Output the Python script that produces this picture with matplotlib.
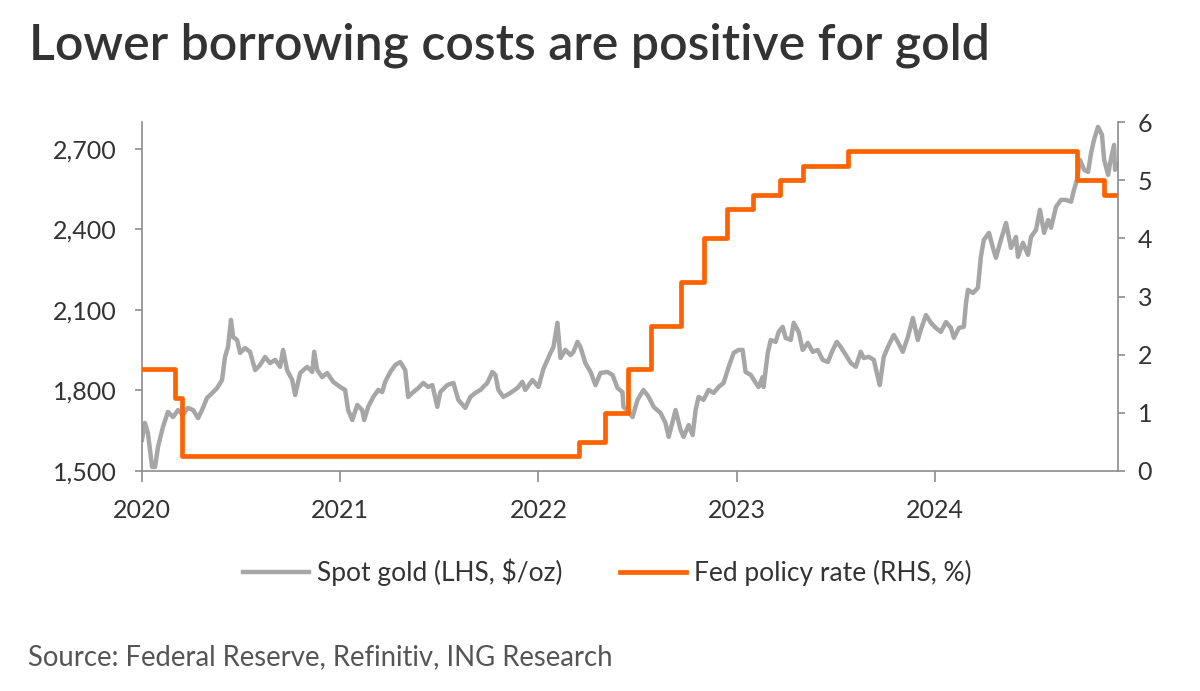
import matplotlib
matplotlib.use("Agg")
import matplotlib.pyplot as plt

# gold (decimal years, $/oz)
gold_year = [
    2020.000, 2020.015, 2020.030, 2020.051, 2020.066, 2020.081, 2020.106, 2020.131, 2020.157, 2020.182,
    2020.207, 2020.232, 2020.258, 2020.283, 2020.303, 2020.328, 2020.354, 2020.379, 2020.404, 2020.419,
    2020.434, 2020.449, 2020.460, 2020.480, 2020.495, 2020.520, 2020.545, 2020.571, 2020.596, 2020.621,
    2020.646, 2020.672, 2020.697, 2020.712, 2020.732, 2020.758, 2020.773, 2020.798, 2020.833, 2020.859,
    2020.869, 2020.884, 2020.909, 2020.934, 2020.965, 2021.000,
    2021.025, 2021.040, 2021.061, 2021.086, 2021.111, 2021.121, 2021.141, 2021.167, 2021.192, 2021.212,
    2021.227, 2021.253, 2021.278, 2021.303, 2021.328, 2021.343, 2021.369, 2021.394, 2021.419, 2021.444,
    2021.465, 2021.490, 2021.505, 2021.540, 2021.571, 2021.596, 2021.631, 2021.657, 2021.682, 2021.707,
    2021.742, 2021.768, 2021.783, 2021.798, 2021.823, 2021.859, 2021.894, 2021.919, 2021.934, 2021.970,
    2022.000, 2022.025,
    2022.061, 2022.076, 2022.096, 2022.111, 2022.136, 2022.162, 2022.177, 2022.197, 2022.212, 2022.237,
    2022.263, 2022.288, 2022.313, 2022.348, 2022.374, 2022.399, 2022.424, 2022.429, 2022.455, 2022.475,
    2022.500, 2022.530, 2022.556, 2022.581, 2022.616, 2022.641, 2022.657, 2022.692, 2022.717, 2022.732,
    2022.758, 2022.778, 2022.793, 2022.808, 2022.833, 2022.859, 2022.884, 2022.909, 2022.934, 2022.960,
    2022.985, 2023.010,
    2023.030, 2023.045, 2023.071, 2023.096, 2023.111, 2023.131, 2023.136, 2023.157, 2023.172, 2023.197,
    2023.212, 2023.232, 2023.247, 2023.273, 2023.288, 2023.313, 2023.333, 2023.359, 2023.384, 2023.409,
    2023.434, 2023.460, 2023.485, 2023.505, 2023.525, 2023.551, 2023.576, 2023.601, 2023.626, 2023.641,
    2023.667, 2023.692, 2023.712, 2023.722, 2023.742, 2023.768, 2023.793, 2023.813, 2023.838, 2023.864,
    2023.889, 2023.914, 2023.929, 2023.955, 2023.980, 2024.005,
    2024.030, 2024.056, 2024.081, 2024.096, 2024.121, 2024.146, 2024.157, 2024.167, 2024.192, 2024.217,
    2024.232, 2024.247, 2024.273, 2024.293, 2024.308, 2024.333, 2024.359, 2024.384, 2024.409, 2024.419,
    2024.444, 2024.470, 2024.485, 2024.510, 2024.530, 2024.551, 2024.571, 2024.586, 2024.611, 2024.636,
    2024.662, 2024.687, 2024.702, 2024.717, 2024.732, 2024.753, 2024.773, 2024.788, 2024.803, 2024.823,
    2024.843, 2024.854, 2024.874, 2024.884, 2024.904, 2024.909, 2024.924,
]
gold_price = [
    1616, 1679, 1642, 1515, 1515, 1590, 1664, 1720, 1701, 1727,
    1709, 1735, 1727, 1697, 1727, 1772, 1790, 1809, 1839, 1925,
    1962, 2063, 1999, 1988, 1940, 1958, 1944, 1876, 1895, 1925,
    1902, 1914, 1888, 1951, 1876, 1839, 1783, 1865, 1888, 1869,
    1944, 1876, 1850, 1865, 1832, 1813,
    1802, 1727, 1690, 1746, 1727, 1690, 1739, 1776, 1802, 1794,
    1832, 1869, 1895, 1906, 1876, 1776, 1794, 1809, 1828, 1813,
    1820, 1739, 1794, 1820, 1828, 1765, 1735, 1776, 1791, 1802,
    1828, 1869, 1858, 1802, 1776, 1791, 1809, 1832, 1802, 1839,
    1813, 1880,
    1940, 1962, 2052, 1921, 1951, 1932, 1944, 1981, 1962, 1902,
    1869, 1820, 1865, 1869, 1858, 1809, 1794, 1739, 1720, 1701,
    1765, 1802, 1776, 1739, 1716, 1679, 1627, 1727, 1653, 1627,
    1671, 1634, 1727, 1776, 1765, 1802, 1791, 1813, 1828, 1888,
    1940, 1951,
    1951, 1869, 1858, 1828, 1813, 1850, 1813, 1940, 1988, 1981,
    2018, 2037, 1996, 1988, 2052, 2018, 1951, 1977, 1944, 1951,
    1914, 1906, 1951, 1981, 1962, 1932, 1902, 1888, 1944, 1921,
    1925, 1914, 1850, 1820, 1925, 1970, 2007, 1981, 1944, 2000,
    2070, 1988, 2026, 2081, 2052, 2033,
    2018, 2055, 2033, 1996, 2033, 2037, 2126, 2175, 2163, 2182,
    2298, 2361, 2387, 2331, 2294, 2361, 2424, 2331, 2372, 2298,
    2350, 2305, 2372, 2398, 2473, 2387, 2435, 2406, 2484, 2510,
    2510, 2503, 2548, 2585, 2659, 2622, 2614, 2685, 2734, 2782,
    2752, 2659, 2603, 2648, 2715, 2622, 2640,
]

# fed funds target, upper bound (%)
fed_year = [2020.000, 2020.169, 2020.203, 2022.204, 2022.338, 2022.452, 2022.567, 2022.721,
            2022.836, 2022.951, 2023.085, 2023.219, 2023.334, 2023.564, 2024.715, 2024.853, 2024.924]
fed_rate = [1.75, 1.25, 0.25, 0.50, 1.00, 1.75, 2.50, 3.25,
            4.00, 4.50, 4.75, 5.00, 5.25, 5.50, 5.00, 4.75, 4.75]

left_ticks = [1500, 1800, 2100, 2400, 2700]
right_ticks = [0, 1, 2, 3, 4, 5, 6]
year_ticks = [2020, 2021, 2022, 2023, 2024]

orange = "#FF6200"
grey = "#A6A6A6"
axis_col = "#8C8C8C"
txt = "#333333"

plt.rcParams['font.family'] = ['Lato', 'DejaVu Sans']

fig = plt.figure(figsize=(12, 6.91), dpi=100)
ax = fig.add_axes([0.1183, 0.3184, 0.8134, 0.505])
ax2 = ax.twinx()

ln1, = ax.plot(gold_year, gold_price, color=grey, lw=3.2, solid_joinstyle='round',
               label="Spot gold (LHS, $/oz)")
ln2, = ax2.step(fed_year, fed_rate, where='post', color=orange, lw=3.4,
                label="Fed policy rate (RHS, %)")

ax.set_xlim(2020, 2024.924)
ax.set_ylim(1500, 2800)
ax2.set_ylim(0, 6)
ax.set_xticks(year_ticks)
ax.set_xticklabels([str(y) for y in year_ticks])
ax.set_yticks(left_ticks)
ax.set_yticklabels([f"{v:,}" for v in left_ticks])
ax2.set_yticks(right_ticks)

for a in (ax, ax2):
    a.spines['top'].set_visible(False)
    for s in ('left', 'right', 'bottom'):
        a.spines[s].set_color(axis_col)
        a.spines[s].set_linewidth(1.2)
    a.tick_params(colors=axis_col, labelcolor=txt, labelsize=18, width=1.2)
ax.spines['right'].set_visible(False)
ax2.spines['left'].set_visible(False)
ax2.spines['bottom'].set_visible(False)
ax.tick_params(axis='y', length=5, pad=13)
ax.tick_params(axis='x', length=8, pad=12)
ax2.tick_params(axis='y', length=5, pad=9)

fig.text(0.024, 0.935, "Lower borrowing costs are positive for gold", fontsize=36,
         fontweight='semibold', color=txt, ha='left', va='center')

fig.legend(handles=[ln1, ln2], loc='center', bbox_to_anchor=(0.506, 0.172), ncol=2,
           frameon=False, fontsize=19, handlelength=2.5, handletextpad=0.3,
           columnspacing=2.2, labelcolor=txt)

fig.text(0.023, 0.049, "Source: Federal Reserve, Refinitiv, ING Research", fontsize=19.8,
         color="#555555", ha='left', va='center')

fig.savefig("out.png", dpi=100)
